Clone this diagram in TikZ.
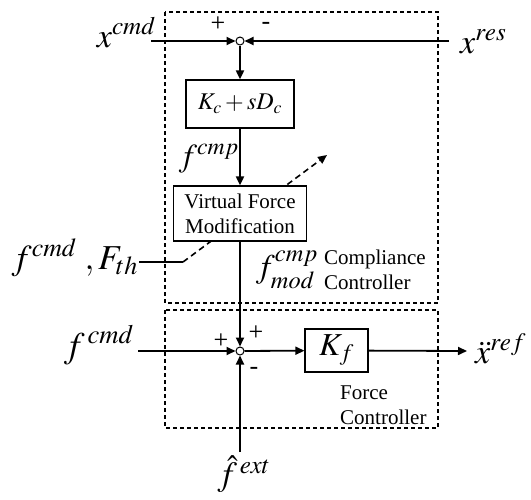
\documentclass[tikz,border=0pt]{standalone}
\usepackage{mathptmx}
\usepackage[no-math]{fontspec}
\setmainfont{Liberation Serif}
\usetikzlibrary{arrows.meta,positioning}
\tikzset{
  >={Triangle[length=9pt,width=8pt]},
  blk/.style={draw,line width=1.2pt,fill=white,inner sep=0pt},
  sumpt/.style={circle,draw,line width=1pt,fill=white,minimum size=8pt,inner sep=0pt},
  frame/.style={draw,line width=1.5pt,dash pattern=on 4pt off 3pt},
  flow/.style={->,line width=1.8pt},
  tuning/.style={->,line width=1.6pt,dash pattern=on 6pt off 4pt},
  sig/.style={inner sep=0pt,font=\fontsize{#1}{#1}\selectfont},
  sig/.default=34,
  note/.style={inner sep=0pt,align=left,font=\fontsize{21}{25}\selectfont},
  sign/.style={inner sep=0pt,font=\fontsize{26}{26}\selectfont},
}

\begin{document}
\begin{tikzpicture}[x=1pt,y=-1pt]
  \useasboundingbox (0,0) rectangle (531,499);
  % controller frames
  \draw[frame] (165,12) rectangle (438,303);
  \draw[frame] (165,310) rectangle (438,428);
  % threshold input, drawn under the block
  \coordinate (fin) at (139,262);
  \coordinate (fbend) at (183,262);
  \coordinate (tune) at (327,155);
  \draw[line width=1.8pt] (fin) -- (fbend);
  \draw[tuning] (fbend) -- (tune);
  % compliance controller
  \node[sumpt] (s1) at (240,41) {};
  \coordinate (xin) at (151,41);
  \coordinate (xrs) at (449,41);
  \node[blk,minimum width=108pt,minimum height=48pt,sig=24] (kc) at (240,104) {$K_c+sD_c$};
  \node[blk,minimum width=133pt,minimum height=55pt,align=center,
    font=\fontsize{21}{25}\selectfont] (vfm) at (240,213.5) {Virtual Force\\Modification};
  % force controller
  \node[sumpt] (s2) at (240,351) {};
  \coordinate (fcin) at (138,351);
  \coordinate (fext) at (240,452);
  \coordinate (out) at (467,351);
  \node[blk,minimum width=63pt,minimum height=43pt,sig=32] (kf) at (336.5,350.5) {$K_f$};
  \draw[flow] (xin) -- (s1);
  \draw[flow] (xrs) -- (s1);
  \draw[flow] (s1) -- (kc);
  \draw[flow] (kc) -- (vfm);
  \draw[flow] (vfm) -- (s2);
  \draw[flow] (fcin) -- (s2);
  \draw[flow] (fext) -- (s2);
  \draw[flow] (s2) -- (kf);
  \draw[flow] (kf) -- (out);
  % signal names
  \node[sig,anchor=base east] (xcmd) at (156,47) {$x^{cmd}$};
  \node[sig,anchor=base west] (xres) at (460,53) {$x^{res}$};
  \node[sig=32,anchor=base east] (fcmp) at (239,166) {$f^{cmp}$};
  \node[sig=35,anchor=base east] (fth) at (138,269) {$f^{cmd}\;,F_{th}$};
  \node[sig=33] (fmod) at (287,270) {$f^{cmp}_{mod}$};
  \node[sig=36,anchor=base east] (fcmd) at (134,357) {$f^{\,cmd}$};
  \node[sig,anchor=base west] (xref) at (475,363) {$\ddot{x}^{ref}$};
  \node[sig] (fhat) at (244,474) {$\hat{f}^{\,ext}$};
  \node[note,anchor=west] (cc) at (324,270) {Compliance\\Controller};
  \node[note,anchor=west] (fc) at (340,405) {Force\\Controller};
  % signs
  \node[sign] (p1) at (218,24) {+};
  \node[sign] (m1) at (266,26) {-};
  \node[sign] (p2) at (221,341) {+};
  \node[sign] (p3) at (256,333) {+};
  \node[sign] (m2) at (254,371) {-};
\end{tikzpicture}
\end{document}
